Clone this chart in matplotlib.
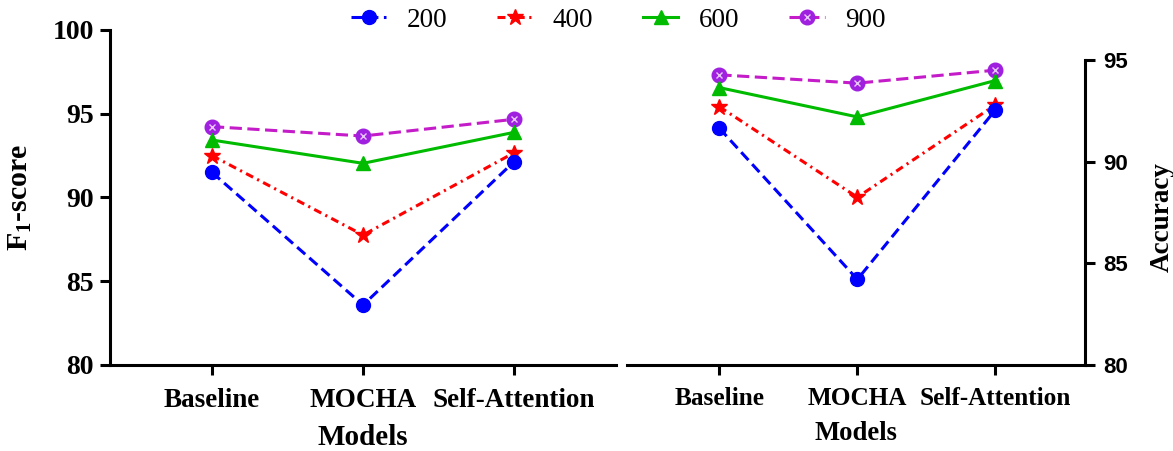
import matplotlib
matplotlib.use("Agg")
import matplotlib.pyplot as plt

# ---------------- data ----------------
models = ["Baseline", "MOCHA", "Self-Attention"]
series_labels = ["200", "400", "600", "900"]

f1_200 = [91.50, 83.58, 92.14]
f1_400 = [92.50, 87.76, 92.67]
f1_600 = [93.43, 92.04, 93.89]
f1_900 = [94.23, 93.67, 94.67]

acc_200 = [91.64, 84.21, 92.54]
acc_400 = [92.70, 88.25, 92.79]
acc_600 = [93.64, 92.20, 93.99]
acc_900 = [94.27, 93.86, 94.50]

left_yticks = [80, 85, 90, 95, 100]
right_yticks = [80, 85, 90, 95]

# ---------------- style ----------------
plt.rcParams['mathtext.fontset'] = 'custom'
plt.rcParams['mathtext.rm'] = 'Liberation Serif:bold'
plt.rcParams['mathtext.it'] = 'Liberation Serif:bold'
plt.rcParams['mathtext.bf'] = 'Liberation Serif:bold'
plt.rcParams['mathtext.default'] = 'rm'

SERIF = 'Liberation Serif'
SANS = 'Liberation Sans'

c_blue = '#0000ff'
c_red = '#ff0000'
c_green = '#00bb00'
c_purple_line = '#c41cc8'
c_purple_mk = '#a020e0'
LW = 2.2

styles = {
    "200": dict(color=c_blue, linestyle=(0, (3.5, 1.8)), marker='o', markersize=10,
                markerfacecolor=c_blue, markeredgecolor=c_blue, zorder=6),
    "400": dict(color=c_red, linestyle=(0, (2.6, 1.5, 0.7, 1.5)), marker='*', markersize=12,
                markerfacecolor=c_red, markeredgecolor=c_red, zorder=5),
    "600": dict(color=c_green, linestyle='-', marker='^', markersize=10.5,
                markerfacecolor=c_green, markeredgecolor=c_green, zorder=4),
    "900": dict(color=c_purple_line, linestyle=(0, (4, 1.8)), marker='o', markersize=10.5,
                markerfacecolor=c_purple_mk, markeredgecolor=c_purple_mk, zorder=3),
}

fig = plt.figure(figsize=(11.73, 4.51), dpi=100)
ax1 = fig.add_axes([0.0938, 0.1907, 0.4314, 0.7428])
ax2 = fig.add_axes([0.5345, 0.1907, 0.3905, 0.6763])

x = list(range(len(models)))


def draw(ax, data):
    handles = []
    for lab, vals in zip(series_labels, data):
        st = styles[lab]
        (ln,) = ax.plot(x, vals, linewidth=LW, label=lab, clip_on=False, **st)
        if lab == "900":
            (ov,) = ax.plot(x, vals, linestyle='none', marker='x', markersize=5,
                            markeredgecolor='#e8c8f8', markeredgewidth=1.0,
                            zorder=st['zorder'] + 0.1, clip_on=False)
            handles.append((ln, ov))
        else:
            handles.append(ln)
    return handles


handles = draw(ax1, [f1_200, f1_400, f1_600, f1_900])
draw(ax2, [acc_200, acc_400, acc_600, acc_900])

# left axes
ax1.set_xlim(-0.675, 2.675)
ax1.set_ylim(80, 100)
ax1.set_yticks(left_yticks)
ax1.set_xticks(x)
ax1.set_xticklabels(models, fontfamily=SERIF, fontweight='bold', fontsize=19.5)
for lbl in ax1.get_yticklabels():
    lbl.set_fontfamily(SERIF)
    lbl.set_fontweight('bold')
    lbl.set_fontsize(20)
ax1.spines['top'].set_visible(False)
ax1.spines['right'].set_visible(False)
for s in ['left', 'bottom']:
    ax1.spines[s].set_linewidth(2.2)
ax1.tick_params(axis='both', width=2.2, length=7.5, direction='out')
ax1.tick_params(axis='y', pad=4)
ax1.tick_params(axis='x', pad=9)
ax1.set_xlabel('Models', fontfamily=SERIF, fontweight='bold', fontsize=21, labelpad=8)
ax1.set_ylabel('F$_1$-score', fontfamily=SERIF, fontweight='bold', fontsize=21.5)
ax1.yaxis.set_label_coords(-0.150, 0.5)

# right axes
ax2.set_xlim(-0.67, 2.65)
ax2.set_ylim(80, 95)
ax2.set_yticks(right_yticks)
ax2.set_xticks(x)
ax2.set_xticklabels(models, fontfamily=SERIF, fontweight='bold', fontsize=18.2)
ax2.yaxis.tick_right()
ax2.yaxis.set_label_position('right')
for lbl in ax2.get_yticklabels():
    lbl.set_fontfamily(SANS)
    lbl.set_fontweight('bold')
    lbl.set_fontsize(16)
ax2.spines['top'].set_visible(False)
ax2.spines['left'].set_visible(False)
for s in ['right', 'bottom']:
    ax2.spines[s].set_linewidth(2.2)
ax2.tick_params(axis='both', width=2.2, length=7, direction='out')
ax2.tick_params(axis='y', pad=6)
ax2.tick_params(axis='x', pad=9)
ax2.set_xlabel('Models', fontfamily=SERIF, fontweight='bold', fontsize=19.2, labelpad=8)
ax2.set_ylabel('Accuracy', fontfamily=SERIF, fontweight='bold', fontsize=19.5, rotation=90)
ax2.yaxis.set_label_coords(1.142, 0.485)

leg = fig.legend(handles, series_labels, loc='center', bbox_to_anchor=(0.527, 0.955),
                 ncol=4, frameon=False, handlelength=1.3, handletextpad=0.75,
                 columnspacing=1.85, prop={'family': SERIF, 'size': 19.5})

fig.savefig('out.png', dpi=100)
